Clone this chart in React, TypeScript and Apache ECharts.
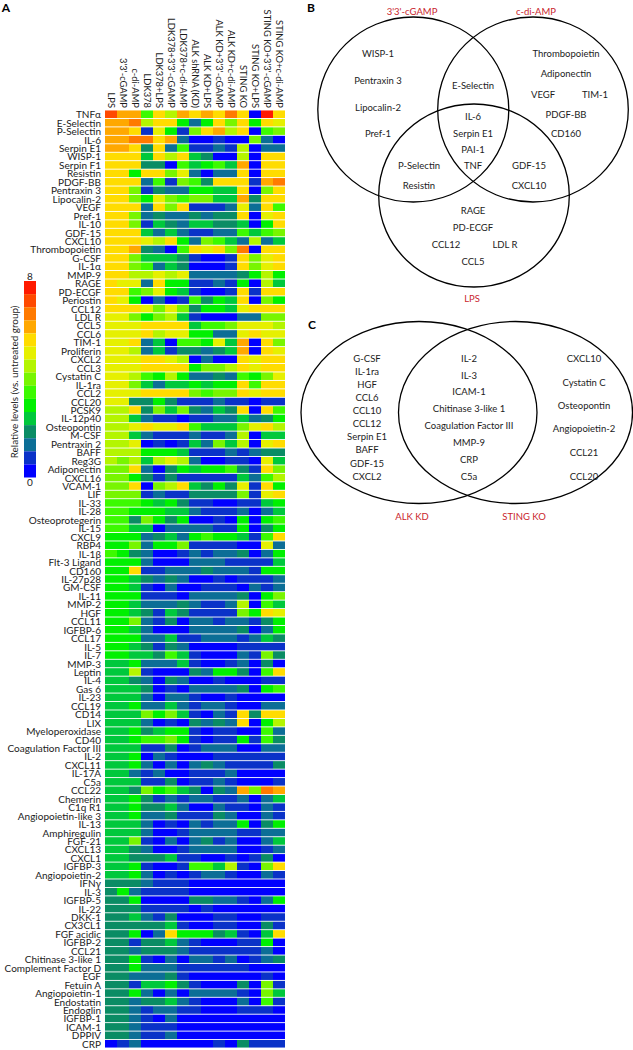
import React, { useEffect, useRef } from "react";
import * as echarts from "echarts";

const conditions = ["LPS","3'3'-cGAMP","c-di-AMP","LDK378","LDK378+LPS","LDK378+3'3'-cGAMP","LDK378+c-di-AMP","ALK shRNA (KD)","ALK KD+LPS","ALK KD+3'3'-cGAMP","ALK KD+c-di-AMP","STING KO","STING KO+LPS","STING KO+3'3'-cGAMP","STING KO+c-di-AMP"];

const analytes = ["TNFα","E-Selectin","P-Selectin","IL-6","Serpin E1","WISP-1","Serpin F1","Resistin","PDGF-BB","Pentraxin 3","Lipocalin-2","VEGF","Pref-1","IL-10","GDF-15","CXCL10","Thrombopoietin","G-CSF","IL-1α","MMP-9","RAGE","PD-ECGF","Periostin","CCL12","LDL R","CCL5","CCL6","TIM-1","Proliferin","CXCL2","CCL3","Cystatin C","IL-1ra","CCL2","CCL20","PCSK9","IL-12p40","Osteopontin","M-CSF","Pentraxin 2","BAFF","Reg3G","Adiponectin","CXCL16","VCAM-1","LIF","IL-33","IL-28","Osteoprotegerin","IL-15","CXCL9","RBP4","IL-1β","Flt-3 Ligand","CD160","IL-27p28","GM-CSF","IL-11","MMP-2","HGF","CCL11","IGFBP-6","CCL17","IL-5","IL-7","MMP-3","Leptin","IL-4","Gas 6","IL-23","CCL19","CD14","LIX","Myeloperoxidase","CD40","Coagulation Factor III","IL-2","CXCL11","IL-17A","C5a","CCL22","Chemerin","C1q R1","Angiopoietin-like 3","IL-13","Amphiregulin","FGF-21","CXCL13","CXCL1","IGFBP-3","Angiopoietin-2","IFNγ","IL-3","IGFBP-5","IL-22","DKK-1","CX3CL1","FGF acidic","IGFBP-2","CCL21","Chitinase 3-like 1","Complement Factor D","EGF","Fetuin A","Angiopoietin-1","Endostatin","Endoglin","IGFBP-1","ICAM-1","DPPIV","CRP"];

// Colour step of every cell: 0 (bottom of the colour bar) to 14 (top).
const cellSteps = [
[13,11,11,6,10,8,11,10,11,10,12,10,0,14,10],
[11,11,12,8,10,10,5,2,5,10,7,10,5,10,9],
[11,11,10,1,9,5,1,7,10,11,8,10,0,6,7],
[11,11,12,12,10,11,2,0,0,1,0,0,7,2,0],
[11,11,10,3,10,2,6,1,1,2,1,8,0,2,2],
[10,10,10,4,10,8,10,4,3,0,0,8,0,10,10],
[10,10,10,3,3,0,6,4,5,6,4,11,0,10,10],
[10,10,5,10,10,7,9,2,0,2,2,10,0,10,10],
[10,10,10,2,6,1,7,6,3,10,10,10,1,11,12],
[10,10,7,1,3,2,2,5,5,4,4,10,0,7,10],
[10,10,7,5,9,7,6,7,7,4,4,11,3,10,10],
[10,10,10,2,10,7,10,1,1,1,2,9,2,10,6],
[10,10,7,2,3,2,2,3,2,3,3,10,0,9,10],
[10,10,7,1,4,3,2,4,4,3,3,4,0,5,10],
[10,10,10,4,2,4,2,1,1,2,2,6,4,6,7],
[10,10,10,9,8,10,5,2,7,6,4,2,8,2,4],
[10,10,11,3,2,0,6,10,9,10,7,12,0,10,10],
[10,10,7,4,4,4,3,1,0,0,1,10,7,9,10],
[10,10,7,6,2,4,3,0,0,0,1,10,7,9,10],
[10,10,8,8,9,8,9,2,2,2,2,3,5,8,5],
[10,9,9,2,10,5,5,1,1,2,1,5,0,8,4],
[10,10,6,7,9,5,4,1,0,0,1,10,1,10,10],
[10,9,5,0,2,0,1,6,3,5,4,10,0,7,5],
[10,10,10,9,7,9,7,3,5,5,4,9,10,10,10],
[9,9,7,5,7,8,4,1,0,0,0,2,2,7,7],
[9,9,9,10,10,10,10,4,6,6,7,9,9,9,8],
[9,9,9,10,8,9,9,5,5,2,2,9,10,9,9],
[9,9,10,2,4,0,6,6,5,9,4,11,0,10,7],
[9,9,8,2,4,1,3,3,2,3,4,11,0,10,9],
[9,9,9,10,10,9,8,0,2,0,0,10,9,10,10],
[9,9,9,10,10,10,10,5,7,7,8,10,9,10,10],
[9,9,8,6,5,8,5,2,2,3,2,6,5,7,9],
[9,9,7,4,2,4,4,5,4,5,5,10,6,10,10],
[9,9,9,10,10,10,10,7,6,7,7,10,9,10,10],
[9,9,3,3,5,3,1,1,1,2,1,1,0,1,1],
[8,8,10,3,7,4,7,3,2,4,3,10,0,10,6],
[8,8,4,2,1,1,0,1,1,2,2,4,2,3,5],
[8,8,9,10,9,9,10,6,4,4,4,7,9,10,8],
[8,8,4,2,1,1,1,2,1,1,2,8,0,4,4],
[8,8,9,0,1,0,1,4,2,7,4,8,0,9,10],
[8,8,8,5,5,5,4,1,1,1,2,1,2,3,3],
[8,7,8,4,8,9,8,2,0,0,1,1,0,9,4],
[7,7,10,2,0,3,5,4,5,5,6,3,1,10,7],
[7,7,5,3,1,3,1,1,1,1,1,4,2,6,8],
[7,7,10,0,7,8,10,4,3,5,3,9,1,10,5],
[7,7,7,1,2,1,1,3,3,3,3,7,1,9,10],
[6,6,6,5,4,5,3,1,1,0,0,1,1,4,5],
[6,6,5,5,5,4,4,2,1,1,1,2,0,2,4],
[6,6,3,7,5,3,5,0,0,1,0,5,0,5,6],
[6,6,4,4,0,2,2,2,2,1,1,5,0,3,5],
[5,5,5,2,3,4,2,5,6,5,5,4,1,6,10],
[5,5,7,2,5,5,7,1,1,1,1,0,0,9,2],
[6,5,3,2,0,0,1,2,1,2,2,3,0,2,5],
[5,5,5,2,0,0,0,2,2,2,1,1,1,1,4],
[5,5,10,1,1,2,2,2,3,2,2,2,1,5,5],
[5,5,4,3,2,3,2,0,0,1,0,1,1,1,2],
[5,5,4,1,0,2,0,0,1,1,1,0,2,1,2],
[5,5,5,1,1,1,0,2,2,2,2,3,0,5,7],
[5,5,4,2,2,2,3,2,1,1,2,8,0,6,4],
[5,5,4,3,1,4,3,1,1,1,1,7,5,10,9],
[5,5,7,2,1,3,0,2,2,1,2,2,1,3,5],
[5,5,4,2,0,0,0,2,2,2,2,3,0,2,5],
[5,5,5,2,2,4,1,1,2,2,2,1,2,4,3],
[5,5,4,3,1,3,2,0,0,0,0,1,1,1,1],
[5,5,4,4,3,6,4,1,0,0,0,2,1,7,3],
[4,4,5,2,2,2,4,1,0,0,1,2,0,3,0],
[4,4,8,1,0,0,0,3,2,5,5,3,0,6,10],
[4,4,3,2,0,3,2,0,0,1,0,0,0,1,1],
[4,4,4,3,0,1,0,2,2,2,2,3,0,5,6],
[4,4,4,2,0,2,2,1,0,0,1,0,0,0,0],
[4,4,5,2,2,4,2,1,2,2,1,0,0,2,2],
[4,4,4,7,5,7,4,1,0,2,1,10,3,10,10],
[4,4,4,2,0,1,0,3,2,3,2,10,0,5,8],
[4,4,5,3,4,5,5,1,0,1,1,0,0,6,2],
[4,4,5,6,6,7,5,1,0,1,1,5,1,6,3],
[4,4,4,1,1,3,0,1,2,2,2,0,0,2,2],
[4,4,5,0,2,1,0,0,0,1,1,1,1,1,1],
[4,4,5,2,0,2,0,2,3,2,1,1,1,1,3],
[4,4,2,1,2,0,0,1,1,1,2,0,0,0,0],
[4,4,4,1,1,3,0,1,1,2,1,0,0,0,1],
[4,4,3,7,5,6,4,3,0,3,2,11,7,12,11],
[4,4,5,3,1,2,1,2,2,1,1,2,0,2,4],
[4,4,5,3,3,4,2,0,0,2,1,1,0,2,1],
[4,4,5,2,2,3,1,1,1,3,2,0,0,2,1],
[4,4,4,2,0,1,0,2,1,2,2,5,0,3,5],
[4,4,4,2,0,0,1,2,2,2,2,1,1,2,2],
[4,4,7,1,0,2,0,2,3,1,2,0,0,2,4],
[4,4,3,2,0,0,1,2,2,2,2,0,0,1,2],
[4,4,3,3,3,4,1,1,0,0,1,0,1,3,0],
[4,4,5,1,0,0,1,6,6,4,8,1,0,7,10],
[4,4,5,2,0,1,0,1,2,2,1,0,0,2,1],
[3,3,3,2,1,1,1,0,0,0,0,0,0,0,0],
[3,5,2,1,1,1,1,0,0,0,0,0,0,0,0],
[3,3,5,0,0,0,0,3,3,2,2,1,0,2,5],
[3,3,3,1,1,1,1,0,1,0,0,0,0,0,0],
[3,3,4,2,1,3,0,0,0,1,1,0,0,1,1],
[3,3,3,3,3,4,1,0,0,1,1,0,0,3,1],
[3,3,5,0,2,10,5,5,5,3,4,1,0,4,10],
[3,3,1,3,3,4,2,1,0,0,0,1,1,5,0],
[3,3,2,3,3,3,2,1,1,1,1,1,1,2,0],
[3,3,5,1,0,2,0,2,2,1,2,0,1,2,3],
[3,3,5,2,2,2,1,1,1,1,1,1,0,0,0],
[3,3,2,2,2,3,1,0,0,0,0,0,0,1,0],
[3,3,1,4,4,5,3,1,0,0,0,3,0,7,1],
[3,3,5,2,0,2,0,2,2,2,2,1,0,7,4],
[3,3,2,3,3,4,2,1,0,0,0,2,0,6,1],
[3,3,2,1,2,2,1,1,0,0,0,1,1,1,0],
[3,3,2,1,0,2,0,0,0,0,0,0,0,0,0],
[3,3,2,1,1,1,0,0,0,0,0,0,0,0,0],
[3,3,2,1,1,2,0,0,0,0,0,0,0,0,0],
[0,1,2,0,0,0,0,0,0,1,0,3,1,1,1],
];

const stepColors = ["#0000ff","#0a32c8","#0c6e96","#0a8c64","#00c83c","#00f000","#3cfa00","#78f500","#b4f500","#e6f000","#ffdc00","#ffa800","#ff7a00","#ff4a00","#ff1a00"];
const scaleMax = 8;
const colorbarEnds = ["8", "0"];
const colorbarTitle = "Relative levels (vs. untreated group)";

const vennBNames = ["WISP-1","Pentraxin 3","Lipocalin-2","Pref-1","E-Selectin","IL-6","Serpin E1","PAI-1","TNF","P-Selectin","Resistin","Thrombopoietin","Adiponectin","VEGF","TIM-1","PDGF-BB","CD160","GDF-15","CXCL10","RAGE","PD-ECGF","CCL12","LDL R","CCL5"];
const vennBSets = ["3'3'-cGAMP","c-di-AMP","LPS"];
const vennCNames = ["G-CSF","IL-1ra","HGF","CCL6","CCL10","CCL12","Serpin E1","BAFF","GDF-15","CXCL2","IL-2","IL-3","ICAM-1","Chitinase 3-like 1","Coagulation Factor III","MMP-9","CRP","C5a","CXCL10","Cystatin C","Osteopontin","Angiopoietin-2","CCL21","CCL20"];
const vennCSets = ["ALK KD","STING KO"];

// Layout only, in page pixels, parallel to the name lists above.
const vennBPlaces = [[378,53],[378,80],[378,107],[378,133],[473,85],[473,116],[473,133],[473,149],[473,165],[419,165],[419,185],[566,53],[566,73],[543,94],[595,94],[566,114],[566,133],[529,165],[529,185],[473,210],[473,227],[446,244],[505,244],[473,261]];
const vennBSetPlaces = [[412,11],[536,11],[472,298]];
const vennCPlaces = [[367,358],[367,371],[367,384],[367,397],[367,410],[367,423],[367,436],[367,449],[367,463],[367,476],[469,358],[469,375],[469,391],[469,408],[469,425],[469,442],[469,459],[469,476],[584,358],[584,382],[584,405],[584,428],[584,452],[584,476]];
const vennCSetPlaces = [[412,516],[524,516]];
const outlines = [[413.3,109.5,95.5,92.5],[533,109.5,95.3,92.5],[474,195.5,95.3,91.5],[419,412.5,118,91],[515.5,412.5,117,91]];

const FONT = "Lato, 'Noto Sans', sans-serif";
const INK = "#1c1c1c";
const RED = "#c9252d";

const toRelative = (step: number) => ((step + 0.5) * scaleMax) / stepColors.length;

function textEl(text: string, x: number, y: number, color = INK, size = 9.5, weight = "normal") {
  return { type: "text", x, y, silent: true, style: { text, fill: color, fontSize: size, fontFamily: FONT, fontWeight: weight, textAlign: "center", textVerticalAlign: "middle" } };
}

function renderCell(_: any, api: any) {
  const [cx, cy] = api.coord([api.value(0), api.value(1)]);
  const [w, h] = api.size([1, 1]);
  return {
    type: "rect",
    shape: { x: cx - w / 2, y: cy - h / 2 + 0.45, width: w, height: h - 0.9 },
    style: { fill: api.visual("color") },
  };
}

export default function App() {
  const ref = useRef<HTMLDivElement>(null);
  useEffect(() => {
    document.body.style.margin = "0";
    const chart = echarts.init(ref.current!, null, { renderer: "svg" });
    const heat: any[] = [];
    cellSteps.forEach((row, r) => row.forEach((s, c) => heat.push([c, r, toRelative(s)])));
    const pieces = stepColors.map((color, i) => ({
      min: (i * scaleMax) / stepColors.length,
      max: ((i + 1) * scaleMax) / stepColors.length,
      color,
    }));
    const graphics: any[] = [
      ...outlines.map(([cx, cy, rx, ry]) => ({ type: "ellipse", silent: true, shape: { cx, cy, rx, ry }, style: { fill: "none", stroke: "#000", lineWidth: 1.3 } })),
      ...vennBNames.map((n, i) => textEl(n, vennBPlaces[i][0], vennBPlaces[i][1])),
      ...vennCNames.map((n, i) => textEl(n, vennCPlaces[i][0], vennCPlaces[i][1])),
      ...vennBSets.map((n, i) => textEl(n, vennBSetPlaces[i][0], vennBSetPlaces[i][1], RED)),
      ...vennCSets.map((n, i) => textEl(n, vennCSetPlaces[i][0], vennCSetPlaces[i][1], RED)),
      textEl("A", 6, 7, "#000", 12, "bold"),
      textEl("B", 311, 7, "#000", 12, "bold"),
      textEl("C", 312, 324, "#000", 12, "bold"),
      { type: "text", x: 14, y: 382, rotation: Math.PI / 2, silent: true, style: { text: colorbarTitle, fill: INK, fontSize: 9.9, fontFamily: FONT, textAlign: "center", textVerticalAlign: "middle" } },
    ];
    chart.setOption({
      animation: false,
      backgroundColor: "#fff",
      grid: { left: 105, top: 110, width: 180, height: 938, containLabel: false, outerBoundsMode: "none" },
      xAxis: {
        type: "category", position: "top", data: conditions,
        axisLine: { show: false }, axisTick: { show: false }, splitLine: { show: false },
        axisLabel: { interval: 0, rotate: 90, margin: 2, fontSize: 9.4, color: INK, fontFamily: FONT, padding: [4, 0, 0, 0] },
      },
      yAxis: {
        type: "category", inverse: true, data: analytes,
        axisLine: { show: false }, axisTick: { show: false }, splitLine: { show: false },
        axisLabel: { interval: 0, margin: 4, fontSize: 10, color: INK, fontFamily: FONT },
      },
      visualMap: {
        type: "piecewise", pieces, dimension: 2, orient: "vertical",
        left: 9, top: 256, itemWidth: 12, itemHeight: 13.1, itemGap: 0, itemSymbol: "rect",
        showLabel: false, selectedMode: false, hoverLink: false,
        text: colorbarEnds, textGap: 4, textStyle: { fontSize: 10, color: INK, fontFamily: FONT },
      },
      series: [{ type: "custom", renderItem: renderCell, data: heat, encode: { x: 0, y: 1 }, silent: true }],
      graphic: { elements: graphics },
    });
    return () => chart.dispose();
  }, []);
  return <div ref={ref} style={{ position: "absolute", left: 0, top: 0, width: 633, height: 1050 }} />;
}
